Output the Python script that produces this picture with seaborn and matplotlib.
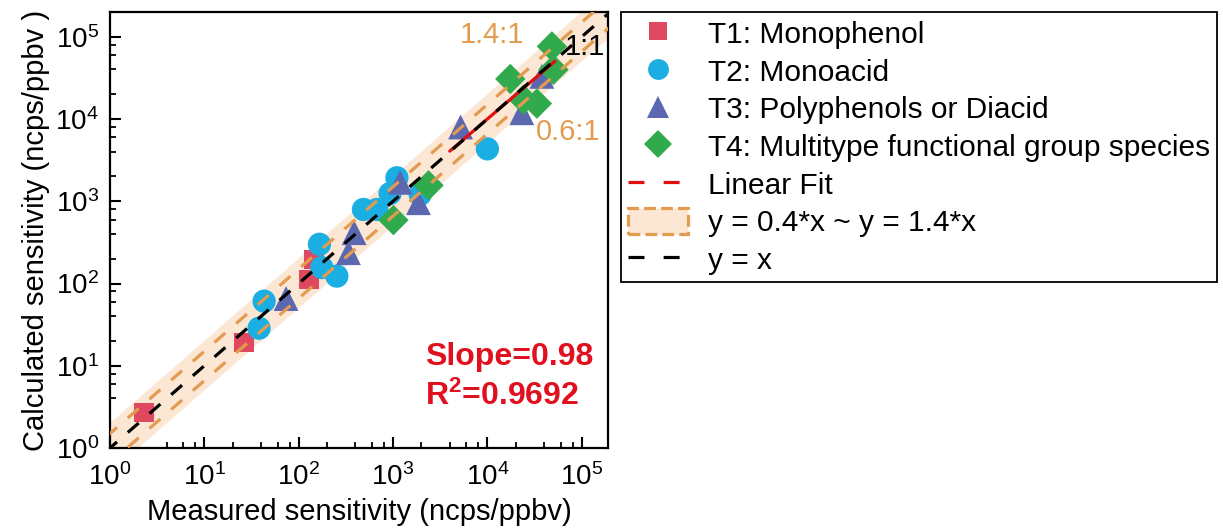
import numpy as np
import matplotlib
matplotlib.use("Agg")
import matplotlib.pyplot as plt
import seaborn as sns
from matplotlib.lines import Line2D
from matplotlib.patches import Patch
from matplotlib.ticker import LogLocator, LogFormatterMathtext, NullFormatter

# measured (x) vs calculated (y) sensitivity, ncps/ppbv
t1_x = [2.3, 26.5, 129, 145]
t1_y = [2.7, 19.2, 112, 195]
t2_x = [38, 43, 166, 176, 254, 486, 673, 931, 1100, 1940, 10000]
t2_y = [28.6, 61, 300, 156, 123, 795, 795, 1244, 1930, 1210, 4335]
t3_x = [73.5, 337, 387, 1190, 1860, 5200, 23200, 37800]
t3_y = [65.6, 237, 415, 1700, 960, 8000, 11900, 33000]
t4_x = [1010, 2380, 17500, 24200, 33500, 48300, 50200]
t4_y = [590, 1560, 30700, 17200, 15400, 76300, 39800]

group_names = ["T1: Monophenol", "T2: Monoacid", "T3: Polyphenols or Diacid",
               "T4: Multitype functional group species"]
group_colors = ["#E04860", "#1BAEE3", "#5B68B0", "#31AA4E"]
group_markers = ["s", "o", "^", "D"]
group_sizes = [200, 280, 320, 240]

fit_slope = 0.98
fit_icept = 0.08
fit_range = [4000, 52000]
band_lo, band_hi = 0.66, 1.5      # dashed limits
fill_lo, fill_hi = 0.5, 2.0       # shaded area

sns.set_style("ticks")
plt.rcParams["font.family"] = ["Liberation Sans", "DejaVu Sans"]
plt.rcParams["mathtext.fontset"] = "custom"
plt.rcParams["mathtext.rm"] = "Liberation Sans"
plt.rcParams["mathtext.it"] = "Liberation Sans:italic"
plt.rcParams["mathtext.bf"] = "Liberation Sans:bold"
for key in ["text.color", "axes.labelcolor", "xtick.color", "ytick.color"]:
    plt.rcParams[key] = "black"

fig = plt.figure(figsize=(12.23, 5.28), dpi=100)
ax = fig.add_axes([110 / 1223, 1 - 448 / 528, 498 / 1223, 436 / 528])

orange = "#E29B4F"
xx = np.logspace(-0.5, 6, 200)
ax.fill_between(xx, fill_lo * xx, fill_hi * xx, color="#FCE6D4", lw=0, zorder=1)
ax.plot(xx, band_lo * xx, ls=(0, (4.5, 4.5)), color=orange, lw=2.3, zorder=4)
ax.plot(xx, band_hi * xx, ls=(0, (4.5, 4.5)), color=orange, lw=2.3, zorder=4)

all_x = [t1_x, t2_x, t3_x, t4_x]
all_y = [t1_y, t2_y, t3_y, t4_y]
for gx, gy, name, c, m, s in zip(all_x, all_y, group_names, group_colors,
                                 group_markers, group_sizes):
    sns.scatterplot(x=gx, y=gy, marker=m, color=c, s=s, edgecolor="none",
                    linewidth=0, ax=ax, zorder=3)

# linear fit sits under the 1:1 dashes so it shows in the gaps
fx = np.logspace(np.log10(fit_range[0]), np.log10(fit_range[1]), 50)
ax.plot(fx, 10 ** (fit_slope * np.log10(fx) + fit_icept), ls="-",
        color="#E01010", lw=2.3, zorder=5)
ax.plot(xx, xx, ls=(0, (4.5, 4.5)), color="black", lw=2.3, zorder=6)

ax.set_xscale("log")
ax.set_yscale("log")
ax.set_xlim(1, 1.9e5)
ax.set_ylim(1, 2e5)

for axis in [ax.xaxis, ax.yaxis]:
    axis.set_major_locator(LogLocator(base=10, numticks=10))
    axis.set_minor_locator(LogLocator(base=10, subs=(2, 4, 6, 8), numticks=10))
    axis.set_major_formatter(LogFormatterMathtext())
    axis.set_minor_formatter(NullFormatter())
ax.tick_params(which="major", direction="in", length=8, width=1.5, labelsize=20,
               top=False, right=False, pad=8)
ax.tick_params(axis="x", which="major", pad=11)
ax.tick_params(which="minor", direction="in", length=4, width=1.3,
               top=False, right=False)
for sp in ax.spines.values():
    sp.set_linewidth(1.6)
    sp.set_color("black")

ax.set_xlabel("Measured sensitivity (ncps/ppbv)", fontsize=21, labelpad=5)
ax.set_ylabel("Calculated sensitivity (ncps/ppbv )", fontsize=21, labelpad=4)

ax.text(0.767, 0.947, "1.4:1", transform=ax.transAxes, color=orange,
        fontsize=21, ha="center", va="center")
ax.text(0.920, 0.725, "0.6:1", transform=ax.transAxes, color=orange,
        fontsize=21, ha="center", va="center")
ax.text(0.954, 0.920, "1:1", transform=ax.transAxes, color="black",
        fontsize=21, ha="center", va="center", zorder=7)
ax.text(0.633, 0.208, "Slope=0.98", transform=ax.transAxes, color="#E0101E",
        fontsize=23, fontweight="bold", ha="left", va="center")
ax.text(0.633, 0.119, r"R$^\mathbf{2}$=0.9692", transform=ax.transAxes,
        color="#E0101E", fontsize=23, fontweight="bold", ha="left", va="center")

handles = []
for name, c, m, ms in zip(group_names, group_colors, group_markers, [13, 15, 16, 14]):
    handles.append(Line2D([], [], ls="none", marker=m, color=c, markersize=ms,
                          markeredgewidth=0, label=name))
handles.append(Line2D([], [], ls=(0, (5, 6)), color="#E01010", lw=2.3,
                      label="Linear Fit"))
handles.append(Patch(facecolor="#FCE6D4", edgecolor=orange, ls="--", lw=2.3,
                     label="y = 0.4*x ~ y = 1.4*x"))
handles.append(Line2D([], [], ls=(0, (5, 6)), color="black", lw=2.3,
                      label="y = x"))
leg = fig.legend(handles=handles, loc="upper left",
                 bbox_to_anchor=(621 / 1223, 1 - 12 / 528),
                 bbox_transform=fig.transFigure, fontsize=21.5, frameon=True,
                 fancybox=False, framealpha=1, edgecolor="black",
                 borderpad=0.25, labelspacing=0.27, handlelength=2.0,
                 handleheight=1.0, handletextpad=0.65, borderaxespad=0)
leg.get_frame().set_linewidth(1.3)

fig.savefig("out.png", dpi=100)
